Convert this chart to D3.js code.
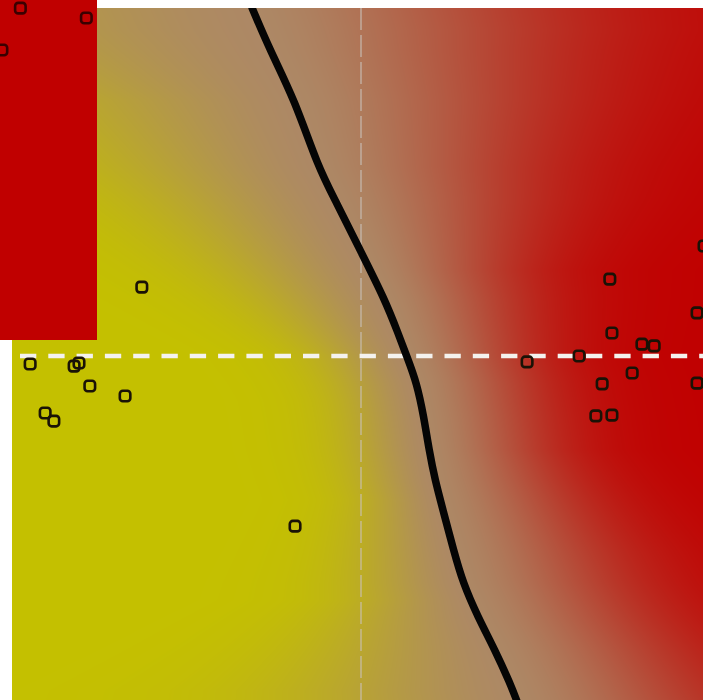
<!DOCTYPE html>
<html><head><meta charset="utf-8">
<script src="https://cdn.jsdelivr.net/npm/d3@7"></script>
<style>
html,body{margin:0;padding:0;background:#fff;}
#wrap{position:relative;width:703px;height:700px;overflow:hidden;}
#wrap canvas,#wrap svg{position:absolute;left:0;top:0;}
</style>
</head><body><div id="wrap"></div>
<script>
// ---- data (data coordinates, axes cross at 0,0) ----
const yellowPoints = [[-0.948,-0.023],[-0.822,-0.029],[-0.808,-0.020],[-0.777,-0.086],[-0.676,-0.115],[-0.905,-0.164],[-0.880,-0.187],[-0.628,0.198],[-0.189,-0.489]];
const redPoints = [[0.713,0.221],[0.983,0.316],[0.963,0.124],[0.719,0.066],[0.805,0.034],[0.840,0.029],[0.625,0.000],[0.476,-0.017],[0.777,-0.049],[0.691,-0.080],[0.963,-0.078],[0.673,-0.172],[0.719,-0.170]];
const boundaryY = [1.0,0.879,0.736,0.543,0.448,0.305,0.161,0.066,-0.003,-0.078,-0.175,-0.270,-0.356,-0.443,-0.557,-0.652,-0.750,-0.845,-0.940,-1.0];
const boundaryX = [-0.312,-0.261,-0.190,-0.123,-0.074,-0.003,0.069,0.106,0.132,0.160,0.180,0.195,0.212,0.235,0.265,0.292,0.335,0.384,0.427,0.45];
const insetPoints = [[0.21,0.024],[0.89,0.053],[0.02,0.147]];
// spread of the probability field on each side of the boundary
const spreadLeftY = [1.0,0.937,0.736,0.448,0.161,0,-0.126,-0.270,-0.414,-0.701,-0.960,-1.0];
const spreadLeft  = [0.78,0.774,0.530,0.387,0.262,0.186,0.170,0.170,0.165,0.235,0.430,0.44];
const spreadRightY = [1.0,0.937,0.448,0.247,0,-0.270,-0.557,-0.701,-0.960,-1.0];
const spreadRight  = [0.64,0.630,0.415,0.310,0.260,0.260,0.335,0.360,0.420,0.43];
const classColors = ["#c4c000","#ad8865","#c00000"];

const W = 703, H = 700;
const x = d3.scaleLinear().domain([-1,1]).range([12,710]);
const y = d3.scaleLinear().domain([1,-1]).range([8,704]);
const bx = d3.scaleLinear().domain(boundaryY).range(boundaryX).clamp(true);
const sL = d3.scaleLinear().domain(spreadLeftY).range(spreadLeft).clamp(true);
const sR = d3.scaleLinear().domain(spreadRightY).range(spreadRight).clamp(true);
const color = d3.scaleLinear().domain([0,0.5,1]).range(classColors).interpolate(d3.interpolateRgb);

const wrap = d3.select("#wrap");
const canvas = wrap.append("canvas").attr("width",W).attr("height",H).node();
const ctx = canvas.getContext("2d");
const img = ctx.createImageData(W,H);
const lut = d3.range(1024).map(i => d3.color(color(i/1023)));
for (let py = Math.floor(y.range()[0]); py < H; py++) {
  const yd = y.invert(py + 0.5);
  const b = bx(yd), l = sL(yd), r = sR(yd);
  for (let px = Math.floor(x.range()[0]); px < W; px++) {
    const xd = x.invert(px + 0.5);
    const dd = xd - b;
    const u = dd / (dd < 0 ? l : r);
    const t = Math.sign(u) * Math.pow(Math.abs(u), 1.5);
    const p = 1/(1+Math.exp(-t));
    const c = lut[Math.round(p*1023)];
    const k = (py*W+px)*4;
    img.data[k]=c.r; img.data[k+1]=c.g; img.data[k+2]=c.b; img.data[k+3]=255;
  }
}
ctx.putImageData(img,0,0);

const svg = wrap.append("svg").attr("width",W).attr("height",H);
const defs = svg.append("defs");
defs.append("clipPath").attr("id","plotclip").append("rect")
  .attr("x",x(-1)).attr("y",y(1)).attr("width",x(1)-x(-1)).attr("height",y(-1)-y(1));
const g = svg.append("g").attr("clip-path","url(#plotclip)");

// vertical axis line (x = 0)
g.append("line").attr("x1",x(0)).attr("x2",x(0)).attr("y1",y(1)).attr("y2",y(-1))
  .attr("stroke","#c8c0b8").attr("stroke-opacity",0.55).attr("stroke-width",2)
  .attr("stroke-dasharray","22,5");
// horizontal axis line (y = 0)
g.append("line").attr("x1",x(-1)).attr("x2",x(1)).attr("y1",y(0)).attr("y2",y(0))
  .attr("stroke","#f4f2ee").attr("stroke-width",4.5)
  .attr("stroke-dasharray","16.3,12").attr("stroke-dashoffset",20.3);

// decision boundary
const line = d3.line().x(d=>x(d[0])).y(d=>y(d[1])).curve(d3.curveBasis);
g.append("path").datum(d3.zip(boundaryX,boundaryY)).attr("d",line)
  .attr("fill","none").attr("stroke","#050505").attr("stroke-width",7.5)
  .attr("stroke-linecap","round").attr("stroke-linejoin","round");

// points
const S = 10.5;
g.selectAll("rect.pt").data(yellowPoints.concat(redPoints)).join("rect").attr("class","pt")
  .attr("x",d=>x(d[0])-S/2).attr("y",d=>y(d[1])-S/2).attr("width",S).attr("height",S)
  .attr("rx",3).attr("fill","none").attr("stroke","#1a1206").attr("stroke-width",2.6);

// inset panel (top-left)
const ix = d3.scaleLinear().domain([0,1]).range([0,97]);
const iy = d3.scaleLinear().domain([0,1]).range([0,340]);
defs.append("clipPath").attr("id","insetclip").append("rect")
  .attr("x",ix(0)).attr("y",iy(0)).attr("width",ix(1)-ix(0)).attr("height",iy(1)-iy(0));
const ig = svg.append("g").attr("clip-path","url(#insetclip)");
ig.append("rect").attr("x",ix(0)).attr("y",iy(0)).attr("width",ix(1)-ix(0)).attr("height",iy(1)-iy(0))
  .attr("fill","#c00000");
ig.selectAll("rect.ipt").data(insetPoints).join("rect").attr("class","ipt")
  .attr("x",d=>ix(d[0])-S/2).attr("y",d=>iy(d[1])-S/2).attr("width",S).attr("height",S)
  .attr("rx",3).attr("fill","none").attr("stroke","#3a0000").attr("stroke-width",2.6);
</script>
</body></html>
